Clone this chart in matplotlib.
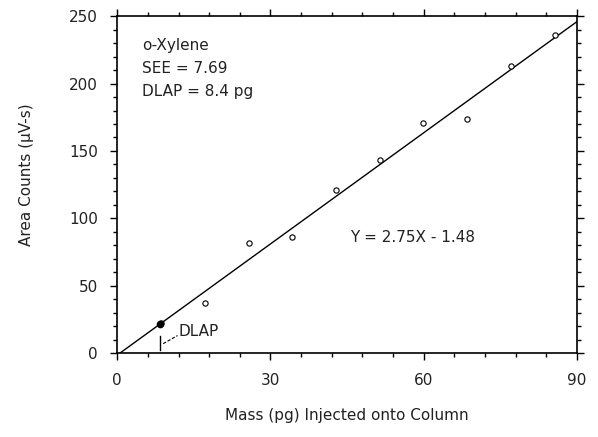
import matplotlib.pyplot as plt
import numpy as np
from matplotlib.ticker import MultipleLocator

plt.rcParams['font.family'] = ['DejaVu Sans']

# calibration data
mass_pg = [8.56, 17.1, 25.7, 34.2, 42.8, 51.4, 59.9, 68.5, 77.1, 85.6]
area_counts = [22, 37, 82, 86, 121, 143, 171, 174, 213, 236]

slope = 2.75
intercept = -1.48
dlap = 8.4

txt = '#222222'

fig = plt.figure(figsize=(5.98, 4.37), dpi=100)
ax = fig.add_axes([0.196, 0.192, 0.769, 0.771])

xs = np.array([0, 90])
ax.plot(xs, slope * xs + intercept, color='black', lw=1.0)
ax.plot(mass_pg, area_counts, 'o', mfc='white', mec='black', ms=3.8, mew=0.8)

# DLAP marker
ax.plot(dlap, slope * dlap + intercept, 'o', color='black', ms=4.5)
ax.plot([dlap, dlap], [2, 13], color='black', lw=1.0)
ax.plot([dlap + 0.6, 11.8], [7, 13], color='black', lw=0.8, ls=(0, (3, 1.5)))
ax.text(12.0, 16, 'DLAP', fontsize=11, color=txt, va='center')

ax.text(4.8, 228, 'o-Xylene', fontsize=11, color=txt, va='center')
ax.text(4.8, 211, 'SEE = 7.69', fontsize=11, color=txt, va='center')
ax.text(4.8, 194, 'DLAP = 8.4 pg', fontsize=11, color=txt, va='center')
ax.text(45.5, 86, 'Y = 2.75X - 1.48', fontsize=11, color=txt, va='center')

ax.set_xlim(0, 90)
ax.set_ylim(0, 250)
ax.xaxis.set_major_locator(MultipleLocator(30))
ax.xaxis.set_minor_locator(MultipleLocator(6))
ax.yaxis.set_major_locator(MultipleLocator(50))
ax.yaxis.set_minor_locator(MultipleLocator(10))
ax.tick_params(which='both', direction='out', top=True, right=True,
               labelsize=11, labelcolor=txt, width=1.0)
ax.tick_params(which='major', length=5, pad=9)
ax.tick_params(which='minor', length=3)
for s in ax.spines.values():
    s.set_linewidth(1.2)

ax.set_xlabel('Mass (pg) Injected onto Column', fontsize=11, color=txt, labelpad=15)
ax.set_ylabel('Area Counts (\u00b5V-s)', fontsize=11, color=txt)
ax.yaxis.set_label_coords(-0.18, 0.53)

fig.savefig('out.png', dpi=100)
